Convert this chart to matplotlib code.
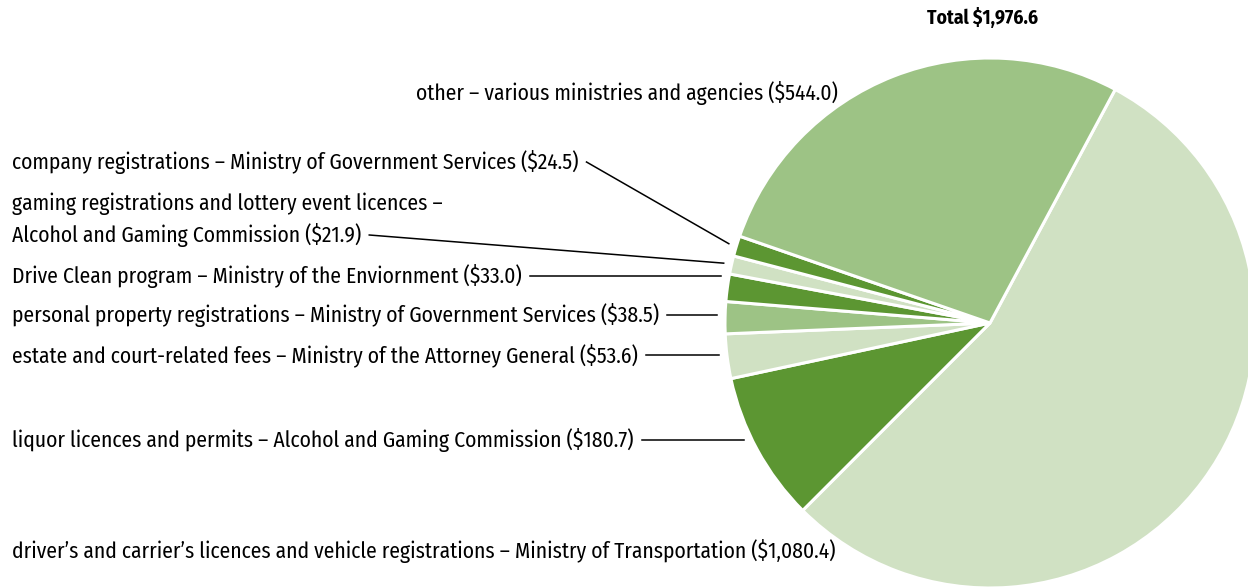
import numpy as np
import matplotlib.pyplot as plt

plt.rcParams['font.family'] = ['Fira Sans Condensed', 'DejaVu Sans']

# revenue by source, $ million (clockwise from the top right)
labels = [
    "driver\u2019s and carrier\u2019s licences and vehicle registrations \u2013 Ministry of Transportation ($1,080.4)",
    "liquor licences and permits \u2013 Alcohol and Gaming Commission ($180.7)",
    "estate and court-related fees \u2013 Ministry of the Attorney General ($53.6)",
    "personal property registrations \u2013 Ministry of Government Services ($38.5)",
    "Drive Clean program \u2013 Ministry of the Enviornment ($33.0)",
    "gaming registrations and lottery event licences \u2013\nAlcohol and Gaming Commission ($21.9)",
    "company registrations \u2013 Ministry of Government Services ($24.5)",
    "other \u2013 various ministries and agencies ($544.0)",
]
values = [1080.4, 180.7, 53.6, 38.5, 33.0, 21.9, 24.5, 544.0]
total_label = "Total $1,976.6"

light = "#d0e1c3"
mid = "#9dc385"
dark = "#5c9632"
colors = [light, dark, light, mid, dark, light, dark, mid]

W, H = 1248, 587
fig = plt.figure(figsize=(W / 100, H / 100), dpi=100)
ax = fig.add_axes([0, 0, 1, 1])

cx, cy, r = 990, H - 323, 265
wedges, _ = ax.pie(values, colors=colors, startangle=61.8, counterclock=False,
                   center=(cx, cy), radius=r, frame=True,
                   wedgeprops=dict(edgecolor='white', linewidth=2.2))
ax.set_xlim(0, W)
ax.set_ylim(0, H)
ax.set_aspect('equal')
ax.axis('off')

# label layout: x, y (pixels from top), leader line?
layout = [
    (12, 551, False),
    (12, 440, True),
    (12, 355, True),
    (12, 315, True),
    (12, 276, True),
    (12, 220, True),
    (12, 162, True),
    (838, 93, False),
]

fs = 15.5
fig.canvas.draw()
for w, lab, (x, y, lead) in zip(wedges, labels, layout):
    ha = 'right' if x > 500 else 'left'
    ax.text(x, H - y, lab, fontsize=fs, ha=ha, va='center', linespacing=1.4)
    if not lead:
        continue
    last_line = lab.split("\n")[-1]
    ty = H - y - (15 if "\n" in lab else 0)
    probe = ax.text(x, ty, last_line, fontsize=fs, ha='left', va='center', alpha=0)
    fig.canvas.draw()
    tx = probe.get_window_extent().x1 + 8
    probe.remove()
    # straight across if that height falls inside the wedge, else to the wedge middle
    a = 180 - np.degrees(np.arcsin(np.clip((ty - cy) / r, -1, 1)))
    lo, hi = w.theta1, w.theta2
    if lo <= a <= hi or lo <= a - 360 <= hi:
        ex = cx - np.sqrt(r ** 2 - (ty - cy) ** 2) - 8
        ey = ty
    else:
        ang = np.deg2rad((w.theta1 + w.theta2) / 2)
        ex = cx + r * 1.03 * np.cos(ang)
        ey = cy + r * 1.03 * np.sin(ang)
    ax.plot([tx, ex], [ty, ey], color='black', lw=1.1)

ax.text(983, H - 18, total_label, fontsize=14, fontweight='bold', ha='center', va='center')

fig.savefig("out.png", dpi=100)
